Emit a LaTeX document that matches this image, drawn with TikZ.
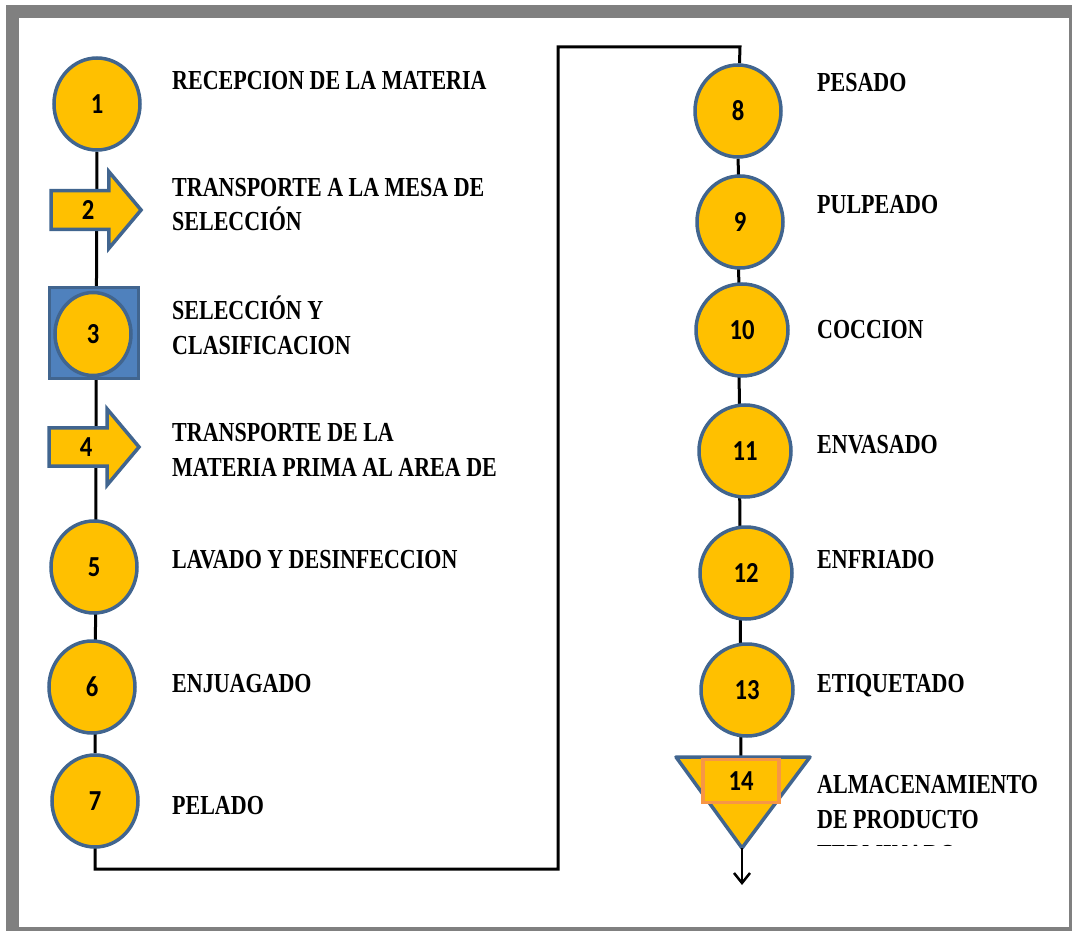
\documentclass[tikz,border=0pt]{standalone}
\usepackage{fontspec}
\setmainfont{Liberation Serif}[FakeStretch=0.8]
\newfontfamily\numfont{Carlito}[FakeStretch=0.85]
\usetikzlibrary{shapes.geometric,shapes.arrows,arrows.meta,backgrounds}

\definecolor{gold}{HTML}{FFC000}
\definecolor{edgeblue}{HTML}{41658F}
\definecolor{boxblue}{HTML}{4F81BD}
\definecolor{boxorange}{HTML}{F79646}
\definecolor{framegray}{HTML}{808080}

\tikzset{
  stepnode/.style={ellipse,fill=gold,draw=edgeblue,line width=3.5pt,
    minimum width=86pt,minimum height=92pt,inner sep=0pt,
    font=\numfont\bfseries\fontsize{29}{29}\selectfont},
  movenode/.style={single arrow,fill=gold,draw=edgeblue,line width=3.5pt,
    minimum height=90pt,inner xsep=2pt,inner ysep=8pt,
    single arrow head extend=19pt,single arrow tip angle=100,
    font=\numfont\bfseries\fontsize{29}{29}\selectfont},
  checknode/.style={rectangle,fill=boxblue,draw=edgeblue,line width=3pt,
    minimum width=89pt,minimum height=91pt,inner sep=0pt},
  storenode/.style={rectangle,fill=gold,draw=boxorange,line width=3.5pt,
    minimum width=76pt,minimum height=43pt,inner sep=0pt,
    font=\numfont\bfseries\fontsize{29}{29}\selectfont},
  steptext/.style={anchor=base west,align=left,inner sep=0pt,
    font=\bfseries\fontsize{27.5}{35}\selectfont},
  flowline/.style={line width=3pt,black}
}

\begin{document}
\begin{tikzpicture}[x=1pt,y=-1pt]
  \useasboundingbox (0,0) rectangle (1072,931);
  \begin{scope}
    \clip (0,0) rectangle (1072,931);
    \draw[framegray,line width=13pt] (12.5,12) rectangle (1075.5,933.5);
  \end{scope}

  % left column
  \node[stepnode] (c1) at (97,104) {1};
  \node[movenode] (a2) at (88,210) {2};
  \node[checknode] (b3) at (94,333) {};
  \node[stepnode,minimum width=76pt,minimum height=83pt] (c3) at (93,334) {3};
  \node[movenode] (a4) at (86,447) {4};
  \node[stepnode] (c5) at (94,567) {5};
  \node[stepnode] (c6) at (92,687) {6};
  \node[stepnode] (c7) at (95,801) {7};

  % right column
  \node[stepnode] (c8) at (738,111) {8};
  \node[stepnode] (c9) at (740,222) {9};
  \node[stepnode,minimum width=92pt] (c10) at (742,330) {10};
  \node[stepnode,minimum width=92pt] (c11) at (745,451) {11};
  \node[stepnode,minimum width=92pt] (c12) at (746,573) {12};
  \node[stepnode,minimum width=92pt] (c13) at (747,690) {13};
  \draw[fill=gold,draw=edgeblue,line width=3.5pt,line join=round]
    (676,757) -- (810,757) -- coordinate[pos=1] (t14) (742,848) -- cycle;
  \node[storenode] (n14) at (741,781) {14};
  \coordinate (e14) at (742,885);

  % connectors
  \begin{scope}[on background layer]
    \draw[flowline] (c1) -- (c7);
    \draw[flowline] (c7.center) |- (558,869) |- (740,47) -- (c8);
    \draw[flowline] (c8) -- (n14);
  \end{scope}
  \draw[line width=2.5pt,-{Straight Barb[length=10pt,width=16pt]}] (t14) -- (e14);

  % labels
  \node[steptext] (l1) at (172,90) {RECEPCION DE LA MATERIA};
  \node[steptext] (l2) at (172,231) {TRANSPORTE A LA MESA DE\\SELECCIÓN};
  \node[steptext] (l3) at (172,354) {SELECCIÓN Y\\CLASIFICACION};
  \node[steptext] (l4) at (172,476) {TRANSPORTE DE LA\\MATERIA PRIMA AL AREA DE};
  \node[steptext] (l5) at (172,568) {LAVADO Y DESINFECCION};
  \node[steptext] (l6) at (172,692) {ENJUAGADO};
  \node[steptext] (l7) at (172,814) {PELADO};
  \node[steptext] (l8) at (817,92) {PESADO};
  \node[steptext] (l9) at (817,214) {PULPEADO};
  \node[steptext] (l10) at (817,338) {COCCION};
  \node[steptext] (l11) at (817,453) {ENVASADO};
  \node[steptext] (l12) at (817,568) {ENFRIADO};
  \node[steptext] (l13) at (817,692) {ETIQUETADO};
  \begin{scope}
    \clip (800,740) rectangle (1060,845);
    \node[steptext] (l14) at (817,863) {ALMACENAMIENTO\\DE PRODUCTO\\TERMINADO};
  \end{scope}
\end{tikzpicture}
\end{document}
